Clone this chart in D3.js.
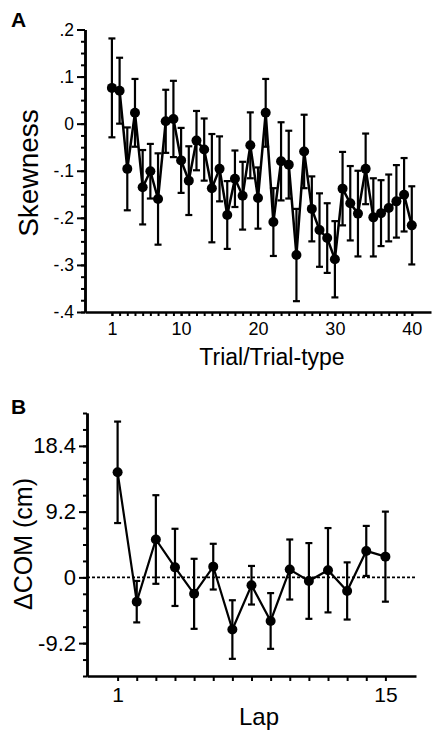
<!DOCTYPE html>
<html><head><meta charset="utf-8">
<script src="https://cdn.jsdelivr.net/npm/d3@7"></script>
<style>body{margin:0;background:#fff}svg{display:block}text{font-family:"Liberation Sans",Arial,sans-serif;fill:#000}</style>
</head><body>
<svg id="c" width="437" height="730"></svg>
<script>
// Panel A: skewness per trial
const trialsA = d3.range(1, 41);
const skewMean = [0.076,0.070,-0.096,0.023,-0.135,-0.101,-0.160,0.005,0.010,-0.078,
  -0.121,-0.036,-0.055,-0.137,-0.096,-0.194,-0.117,-0.153,-0.046,-0.158,
  0.023,-0.209,-0.080,-0.087,-0.279,-0.059,-0.181,-0.226,-0.243,-0.288,
  -0.138,-0.169,-0.191,-0.096,-0.199,-0.190,-0.179,-0.165,-0.151,-0.216];
const skewErr = [0.105,0.070,0.088,0.072,0.079,0.058,0.097,0.067,0.081,0.069,
  0.073,0.063,0.066,0.115,0.069,0.072,0.060,0.072,0.070,0.065,
  0.072,0.072,0.083,0.072,0.098,0.078,0.069,0.078,0.074,0.081,
  0.078,0.079,0.091,0.075,0.083,0.070,0.071,0.077,0.078,0.083];
const yTicksA = [0.2,0.1,0,-0.1,-0.2,-0.3,-0.4];
const yTickLabelsA = [".2",".1","0","-.1","-.2","-.3","-.4"];
const xTickLabelsA = [1,10,20,30,40];

// Panel B: ΔCOM per lap
const laps = d3.range(1, 16);
const comMean = [14.7,-3.4,5.3,1.4,-2.3,1.5,-7.3,-1.1,-6.1,1.1,-0.5,1.0,-1.9,3.7,2.9];
const comErr = [7.1,2.9,6.2,5.4,4.9,3.2,4.1,2.7,3.9,4.2,5.3,5.9,4.0,3.5,6.3];
const yTicksB = [18.4,9.2,0,-9.2];
const xTickLabelsB = [1,15];

const svg = d3.select("#c");
const font = '"Liberation Sans",Arial,sans-serif';

function axisStyle(g){ g.select(".domain").attr("stroke","#000").attr("stroke-width",2.5); g.selectAll(".tick line").attr("stroke","#000").attr("stroke-width",2); g.selectAll("text").style("font-family",font).attr("fill","#000"); }

// ---------- Panel A ----------
const xA = d3.scaleLinear().domain([-2.5,42.5]).range([85,431]);
const yA = d3.scaleLinear().domain([-0.4,0.2]).range([312,29.5]);

const gyAm = svg.append("g").attr("transform","translate(85,0)")
  .call(d3.axisLeft(yA).tickValues(d3.range(-0.4,0.2001,0.025)).tickSize(4).tickFormat("").tickSizeOuter(0));
axisStyle(gyAm);
const gyA = svg.append("g").attr("transform","translate(85,0)")
  .call(d3.axisLeft(yA).tickValues(yTicksA).tickSize(8).tickPadding(3).tickSizeOuter(0)
    .tickFormat((d,i)=>yTickLabelsA[i]));
axisStyle(gyA); gyA.selectAll("text").attr("font-size",17.5);

const gxAm = svg.append("g").attr("transform","translate(0,312)")
  .call(d3.axisBottom(xA).tickValues(trialsA).tickSize(4).tickFormat("").tickSizeOuter(0));
axisStyle(gxAm);
const gxA = svg.append("g").attr("transform","translate(0,312)")
  .call(d3.axisBottom(xA).tickValues(xTickLabelsA).tickSize(4).tickPadding(6).tickSizeOuter(0).tickFormat(d=>String(d)));
axisStyle(gxA); gxA.selectAll("text").attr("font-size",18); gxA.select(".domain").remove();

const eA = svg.append("g");
trialsA.forEach((t,i)=>{
  const x = xA(t), y1 = yA(skewMean[i]+skewErr[i]), y2 = yA(skewMean[i]-skewErr[i]);
  eA.append("line").attr("x1",x).attr("x2",x).attr("y1",y1).attr("y2",y2).attr("stroke","#000").attr("stroke-width",2.2);
  [y1,y2].forEach(y=>eA.append("line").attr("x1",x-3.5).attr("x2",x+3.5).attr("y1",y).attr("y2",y).attr("stroke","#000").attr("stroke-width",2.2));
});
svg.append("path").datum(trialsA.map((t,i)=>[t,skewMean[i]]))
  .attr("fill","none").attr("stroke","#000").attr("stroke-width",2.5)
  .attr("d", d3.line().x(d=>xA(d[0])).y(d=>yA(d[1])));
svg.append("g").selectAll("circle").data(trialsA).join("circle")
  .attr("cx",t=>xA(t)).attr("cy",(t,i)=>yA(skewMean[i])).attr("r",5).attr("fill","#000");

svg.append("text").attr("x",11).attr("y",27).attr("font-size",21).attr("font-weight","bold").text("A");
svg.append("text").attr("transform","translate(38,173) rotate(-90)").attr("text-anchor","middle")
  .attr("font-size",28).text("Skewness");
svg.append("text").attr("x",272).attr("y",365).attr("text-anchor","middle").attr("font-size",23).text("Trial/Trial-type");

// ---------- Panel B ----------
const xB = d3.scaleLinear().domain([-0.6,16.6]).range([87,416]);
const yB = d3.scaleLinear().domain([-13.8,23]).range([676,413]);

const gyBm = svg.append("g").attr("transform","translate(87,0)")
  .call(d3.axisLeft(yB).tickValues(d3.range(-13.8,23.01,2.3)).tickSize(4).tickFormat("").tickSizeOuter(0));
axisStyle(gyBm);
const gyB = svg.append("g").attr("transform","translate(87,0)")
  .call(d3.axisLeft(yB).tickValues(yTicksB).tickSize(8).tickPadding(3).tickSizeOuter(0).tickFormat(d=>d));
axisStyle(gyB); gyB.selectAll("text").attr("font-size",22);

const gxB = svg.append("g").attr("transform","translate(0,676)")
  .call(d3.axisBottom(xB).tickValues(laps).tickSize(5).tickPadding(6).tickSizeOuter(0)
    .tickFormat(d=>xTickLabelsB.includes(d)?d:""));
axisStyle(gxB); gxB.selectAll("text").attr("font-size",21);

svg.append("line").attr("x1",87).attr("x2",416).attr("y1",yB(0)).attr("y2",yB(0))
  .attr("stroke","#000").attr("stroke-width",1.8).attr("stroke-dasharray","3,2");

const eB = svg.append("g");
laps.forEach((t,i)=>{
  const x = xB(t), y1 = yB(comMean[i]+comErr[i]), y2 = yB(comMean[i]-comErr[i]);
  eB.append("line").attr("x1",x).attr("x2",x).attr("y1",y1).attr("y2",y2).attr("stroke","#000").attr("stroke-width",2.2);
  [y1,y2].forEach(y=>eB.append("line").attr("x1",x-3.5).attr("x2",x+3.5).attr("y1",y).attr("y2",y).attr("stroke","#000").attr("stroke-width",2.2));
});
svg.append("path").datum(laps.map((t,i)=>[t,comMean[i]]))
  .attr("fill","none").attr("stroke","#000").attr("stroke-width",2.2)
  .attr("d", d3.line().x(d=>xB(d[0])).y(d=>yB(d[1])));
svg.append("g").selectAll("circle").data(laps).join("circle")
  .attr("cx",t=>xB(t)).attr("cy",(t,i)=>yB(comMean[i])).attr("r",5).attr("fill","#000");

svg.append("text").attr("x",11).attr("y",414).attr("font-size",21).attr("font-weight","bold").text("B");
svg.append("text").attr("transform","translate(32,544) rotate(-90)").attr("text-anchor","middle")
  .attr("font-size",25).text("ΔCOM (cm)");
svg.append("text").attr("x",259).attr("y",725).attr("text-anchor","middle").attr("font-size",24).text("Lap");
</script>
</body></html>
